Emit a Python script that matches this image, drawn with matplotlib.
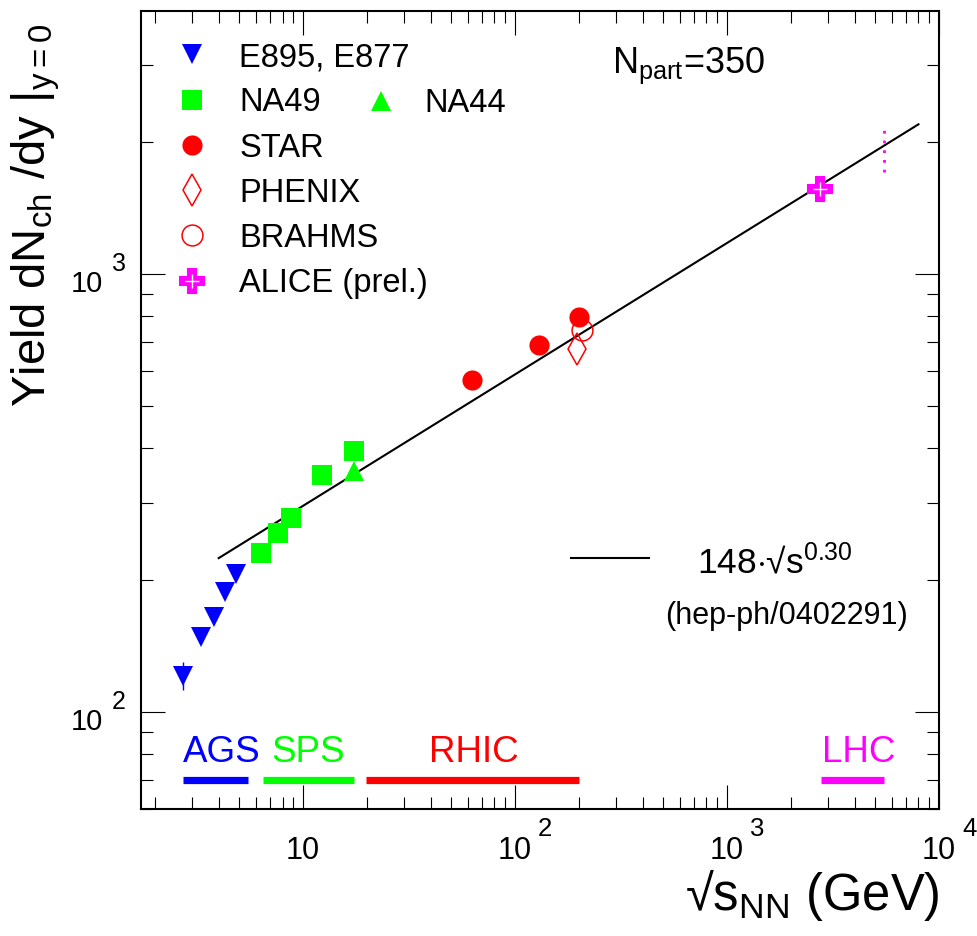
import matplotlib
matplotlib.use("Agg")
import matplotlib.pyplot as plt
import matplotlib.transforms as mtransforms
import numpy as np

plt.rcParams["font.family"] = ["Liberation Sans", "DejaVu Sans"]
plt.rcParams["mathtext.fontset"] = "custom"
plt.rcParams["mathtext.rm"] = "Liberation Sans"
plt.rcParams["mathtext.it"] = "Liberation Sans:italic"
plt.rcParams["mathtext.bf"] = "Liberation Sans:bold"

# Charged particle yield at midrapidity vs. collision energy (central, Npart=350)
ags_x = [2.7, 3.3, 3.8, 4.3, 4.85]
ags_y = [121, 148, 165, 188, 206]
ags_err = [9, 0, 0, 0, 0]
na49_x = [6.3, 7.6, 8.8, 12.3, 17.3]
na49_y = [231, 256, 277, 348, 393]
na44_x = [17.3]
na44_y = [355]
star_x = [62.4, 130, 200]
star_y = [573, 689, 798]
phenix_x = [196]
phenix_y = [675]
brahms_x = [208]
brahms_y = [745]
alice_x = [2760]
alice_y = [1563]

# extrapolation band at 5.5 TeV
lhc_pred_x = 5500
lhc_pred_y = [1710, 2142]

# power-law fit 148 * sqrt(s)^0.30
fit_norm = 148
fit_pow = 0.30
fit_range = [4.0, 8000.0]

# accelerator energy ranges
acc_names = ["AGS", "SPS", "RHIC", "LHC"]
acc_lo = [2.7, 6.5, 19.8, 2770]
acc_hi = [5.5, 17.4, 200, 5500]
acc_text_x = [2.72, 7.1, 39.3, 2800]
acc_colors = ["#0000ff", "#00ff00", "#ff0000", "#ff00ff"]
acc_bar_y = 70

BLUE, GREEN, RED, MAG = "#0000ff", "#00ff00", "#ff0000", "#ff00ff"

fig = plt.figure(figsize=(9.78, 9.36), dpi=100)
ax = fig.add_axes([141 / 978, 127 / 936, 798 / 978, 798 / 936])
ax.set_xscale("log")
ax.set_yscale("log")
ax.set_xlim(1.72, 1e4)
ax.set_ylim(60, 3980)

# fit curve
xf = np.logspace(np.log10(fit_range[0]), np.log10(fit_range[1]), 200)
ax.plot(xf, fit_norm * xf ** fit_pow, color="black", lw=1.5, zorder=2)

# data points
ax.errorbar(ags_x, ags_y, yerr=ags_err, fmt="v", color=BLUE, ms=14, mew=0,
            elinewidth=1, capsize=0, zorder=3)
ax.plot(na49_x, na49_y, "s", color=GREEN, ms=14.5, mew=0, zorder=3)
ax.plot(na44_x, na44_y, "^", color=GREEN, ms=14, mew=0, zorder=3)
ax.plot(star_x, star_y, "o", color=RED, ms=14.5, mew=0, zorder=3)
ax.plot(phenix_x, phenix_y, "d", mfc="none", mec=RED, ms=16, mew=1.1, zorder=4)
ax.plot(brahms_x, brahms_y, "o", mfc="none", mec=RED, ms=15, mew=1.1, zorder=4)
ax.plot(alice_x, alice_y, "P", color=MAG, ms=17, mew=1.5, zorder=4)
ax.plot(alice_x, alice_y, "+", color="white", ms=10, mew=1, zorder=5)
ax.plot([lhc_pred_x, lhc_pred_x], lhc_pred_y, color=MAG, lw=2,
        linestyle=(0, (1, 2.5)), zorder=3)

# accelerator bars and names
blend = mtransforms.blended_transform_factory(ax.transData, ax.transAxes)
for name, lo, hi, tx, c in zip(acc_names, acc_lo, acc_hi, acc_text_x, acc_colors):
    ax.plot([lo, hi], [acc_bar_y, acc_bar_y], color=c, lw=5.2,
            solid_capstyle="butt", zorder=3)
    ax.text(tx, 0.059, name, transform=blend, color=c, fontsize=26.5,
            ha="left", va="baseline")

# legend, drawn by hand
leg = [
    ("v", BLUE, True, "E895, E877"),
    ("s", GREEN, True, "NA49"),
    ("o", RED, True, "STAR"),
    ("d", RED, False, "PHENIX"),
    ("o", RED, False, "BRAHMS"),
    ("P", MAG, True, "ALICE (prel.)"),
]
mx, tx0 = 0.064, 0.123
for i, (m, c, filled, lab) in enumerate(leg):
    yb = 0.931 - i * 0.0567
    ym = yb + 0.0145
    if filled:
        ax.plot(mx, ym, m, color=c, ms=14.5 if m != "P" else 17, mew=0 if m != "P" else 1.5,
                transform=ax.transAxes, clip_on=False)
    else:
        ax.plot(mx, ym, m, mfc="none", mec=c, ms=16 if m == "d" else 15, mew=1.1,
                transform=ax.transAxes, clip_on=False)
    if m == "P":
        ax.plot(mx, ym, "+", color="white", ms=10, mew=1, transform=ax.transAxes)
    ax.text(tx0, yb, lab, transform=ax.transAxes, fontsize=23.5, va="baseline")
ax.plot(0.301, 0.873 + 0.0145, "^", color=GREEN, ms=14, mew=0, transform=ax.transAxes)
ax.text(0.355, 0.873, "NA44", transform=ax.transAxes, fontsize=23.5, va="baseline")

ax.text(0.590, 0.922, r"N$_{\rm part}$=350", transform=ax.transAxes, fontsize=26,
        va="baseline")

ax.plot([0.539, 0.637], [0.3145, 0.3145], color="black", lw=1.5, transform=ax.transAxes)
ax.text(0.697, 0.296, r"148$\cdot$√s$^{0.30}$", transform=ax.transAxes, fontsize=25.5,
        va="baseline")
ax.text(0.657, 0.232, "(hep-ph/0402291)", transform=ax.transAxes, fontsize=22,
        va="baseline")

# ticks: inside, on all four sides
for axis in (ax.xaxis, ax.yaxis):
    axis.set_major_formatter(plt.NullFormatter())
    axis.set_minor_formatter(plt.NullFormatter())
ax.set_xticks([10, 100, 1000, 10000])
ax.set_yticks([100, 1000])
ax.tick_params(which="both", direction="in", top=True, right=True, width=0.8)
ax.tick_params(which="major", length=17)
ax.tick_params(which="minor", length=8.5)
for s in ax.spines.values():
    s.set_linewidth(1.5)

# tick labels in "10^n" style
for e in [1, 2, 3, 4]:
    ax.text(10 ** e, -0.0627, "10", transform=blend, fontsize=22, ha="center",
            va="baseline", clip_on=False)
    if e > 1:
        ax.annotate(str(e), xy=(10 ** e, -0.0338), xycoords=blend,
                    xytext=(16.5, 0), textcoords="offset points", fontsize=18.5,
                    ha="left", va="baseline", annotation_clip=False)
blend_y = mtransforms.blended_transform_factory(ax.transAxes, ax.transData)
for e in [2, 3]:
    ax.annotate("10", xy=(-0.0476, 10 ** e), xycoords=blend_y, xytext=(0, -13),
                textcoords="offset points", fontsize=21, ha="right", va="baseline",
                annotation_clip=False)
    ax.annotate(str(e), xy=(-0.0363, 10 ** e), xycoords=blend_y, xytext=(0, 2),
                textcoords="offset points", fontsize=18, ha="left", va="baseline",
                annotation_clip=False)

fig.text(940 / 978, 1 - 910 / 936, r"√s$_{\rm NN}$ (GeV)", fontsize=36.5,
         ha="right", va="baseline")
fig.text(36 / 978, 1 - 215 / 936, r"Yield dN$_{\rm ch}$ /dy |$_{\rm y=0}$",
         fontsize=34, rotation=90, ha="center", va="center")

fig.savefig("out.png", dpi=100)
